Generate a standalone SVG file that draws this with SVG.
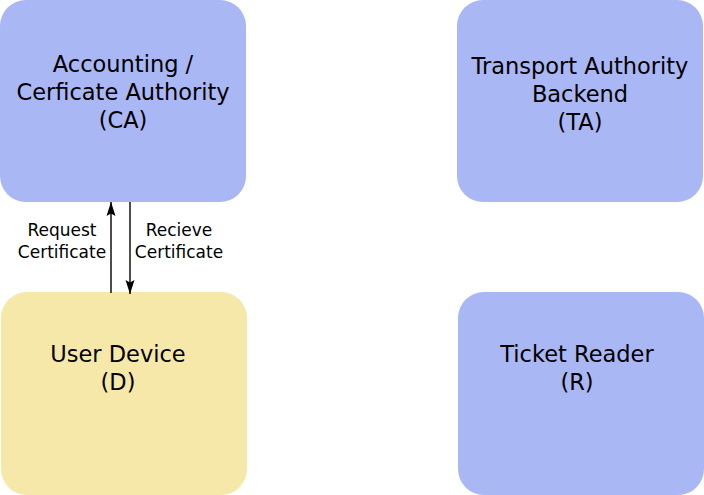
<svg xmlns="http://www.w3.org/2000/svg" width="704" height="495" viewBox="0 0 704 495">
<defs>
<style>
.blue{fill:#a9b7f4}
.yellow{fill:#f5e8a8}
.t{font-family:"DejaVu Sans",sans-serif;font-size:22.5px;fill:#000;text-anchor:middle}
.l{font-family:"DejaVu Sans",sans-serif;font-size:17px;fill:#000;text-anchor:middle}
.c{stroke:#000;stroke-width:1.4;fill:none}
</style>
<marker id="ah" markerWidth="14" markerHeight="10" refX="14" refY="5" orient="auto" markerUnits="userSpaceOnUse" viewBox="0 0 14 10">
<path d="M0,0.5 L14,5 L0,9.5 L2.5,5 Z" fill="#000"/>
</marker>
</defs>
<rect width="704" height="495" fill="#fff"/>
<g id="ca">
<rect class="blue" x="0" y="0" width="246" height="202" rx="26"/>
<text class="t" x="123" y="72">Accounting /</text>
<text class="t" x="123" y="100">Cerficate Authority</text>
<text class="t" x="123" y="128">(CA)</text>
</g>
<g id="ta">
<rect class="blue" x="457" y="0" width="246" height="202" rx="26"/>
<text class="t" x="580" y="74">Transport Authority</text>
<text class="t" x="580" y="102">Backend</text>
<text class="t" x="580" y="130">(TA)</text>
</g>
<g id="d">
<rect class="yellow" x="1" y="292" width="246" height="203" rx="26"/>
<text class="t" x="118" y="362">User Device</text>
<text class="t" x="118" y="390">(D)</text>
</g>
<g id="r">
<rect class="blue" x="458" y="292" width="246" height="203" rx="26"/>
<text class="t" x="577" y="362">Ticket Reader</text>
<text class="t" x="577" y="390">(R)</text>
</g>
<g id="connectors">
<path class="c" d="M111,293 L111,202" marker-end="url(#ah)"/>
<path class="c" d="M130,202 L130,294" marker-end="url(#ah)"/>
<text class="l" x="62" y="236">Request</text>
<text class="l" x="62" y="258">Certificate</text>
<text class="l" x="179" y="236">Recieve</text>
<text class="l" x="179" y="258">Certificate</text>
</g>
</svg>
